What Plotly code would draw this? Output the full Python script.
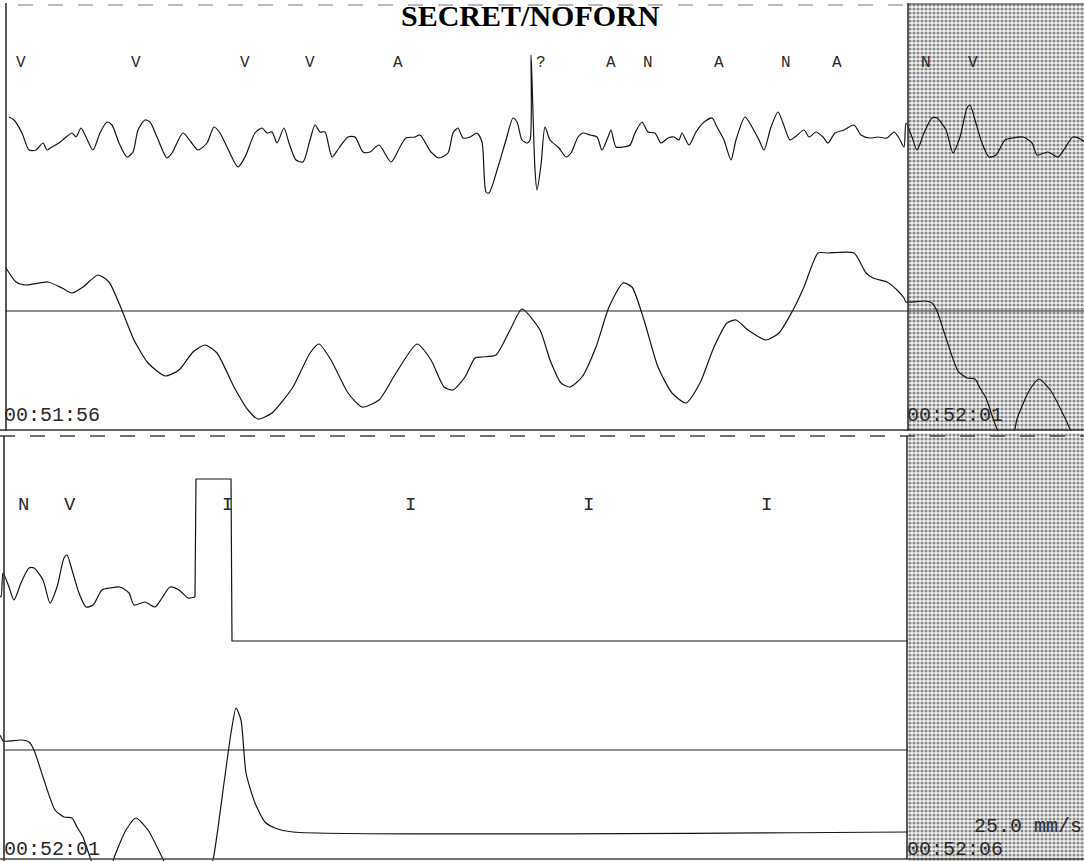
import plotly.graph_objects as go

W, H = 1084, 861
FS = 180.6  # samples per second (25 mm/s chart speed)

# ---------------- data: continuous record from 00:51:56, sample index n ----------------
# ECG channel (counts, positive = up)
ecg_n = [4, 9, 17, 24, 31, 38, 42, 47, 54, 60, 67, 71, 76, 81, 88, 95, 102, 107, 114, 122,
         128, 133, 140, 145, 152, 162, 167, 178, 186, 193, 202, 209, 215, 222, 233, 240, 250,
         257, 262, 267, 272, 279, 284, 291, 298, 305, 310, 315, 320, 327, 334, 343, 350, 358,
         365, 374, 386, 395, 401, 410, 415, 426, 434, 443, 448, 453, 458, 465, 472, 477, 481,
         484, 493, 501, 508, 512, 517, 522, 525, 526, 527, 530, 532, 536, 540, 545, 554, 561,
         566, 573, 578, 585, 592, 597, 603, 606, 611, 618, 625, 630, 637, 643, 650, 656, 663,
         669, 674, 677, 684, 691, 698, 707, 712, 719, 726, 731, 740, 747, 754, 759, 766, 773,
         778, 785, 790, 799, 804, 811, 818, 823, 830, 839, 849, 856, 865, 873, 882, 889, 894,
         899, 901, 907, 912, 919, 927, 932, 941, 948, 955, 962, 965, 970, 977, 984, 991, 1000,
         1008, 1018, 1027, 1032, 1043, 1053, 1060, 1068, 1077, 1086, 1093, 1094, 1129, 1130, 1806]
ecg_a = [23, 20, 7, -10, -10, -3, -10, -7, -3, 2, 7, 3, 12, 3, -10, 7, 18, 15, -3, -17,
         -12, 10, 20, 18, 3, -18, -13, 7, -2, -10, -3, 13, 7, -7, -27, -17, 7,
         12, 7, 8, -3, 12, -3, -20, -22, 0, 15, 8, 8, -17, -8, 3, 3, -12,
         -12, -5, -22, -7, 2, 3, 5, -12, -18, -13, 7, 12, 2, 3, 7, -2, -52,
         -53, -27, 0, 22, 18, 0, -3, 0, 85, 60, -30, -50, -25, 13, 0, -8, -17,
         -13, 3, 7, 5, 3, -10, 3, 10, -7, -7, -5, 7, 18, 8, 7, -3, 2,
         3, 0, 7, -5, 8, 17, 22, 13, 0, -20, 0, 23, 13, 0, -10, 13, 28,
         17, 0, 3, 10, 3, 8, 3, -3, 7, 10, 15, 5, 2, 3, 2, 8, 2,
         -7, 17, 3, -10, 7, 22, 22, 10, -13, 3, 32, 35, 20, -3, -17, -15, 0,
         2, 3, -3, -15, -12, -17, -8, 3, 0, -8, -7, 111, 111, -51, -51]

# Lower (filtered) channel
low_n = [1, 11, 21, 43, 57, 67, 78, 93, 104, 116, 129, 143, 160, 174, 188, 200, 212, 229, 243,
         253, 267, 288, 305, 314, 326, 343, 357, 374, 391, 412, 426, 439, 448, 460, 470, 477,
         491, 505, 517, 535, 545, 556, 565, 577, 591, 604, 618, 627, 639, 653, 667, 681, 695,
         709, 722, 731, 743, 761, 774, 788, 799, 813, 823, 849, 861, 868, 882, 892, 899,
         901, 919, 927, 932, 941, 953, 962, 970, 975, 981, 989, 998, 1008, 1012, 1024, 1034,
         1046, 1060, 1070, 1091, 1105, 1111, 1122, 1129, 1134, 1139, 1144, 1153, 1163, 1173,
         1191, 1806]
low_a = [43, 29, 26, 29, 23, 18, 24, 36, 29, 3, -29, -52, -65, -59, -41, -34, -42, -76, -99,
         -108, -102, -76, -42, -33, -49, -82, -96, -89, -62, -33, -49, -76, -79, -66, -47, -46,
         -44, -19, 2, -19, -49, -72, -76, -66, -36, 4, 28, 24, -9, -56, -82, -92, -72,
         -36, -12, -9, -19, -29, -22, 1, 24, 58, 58, 58, 38, 33, 29, 21, 13,
         9, 10, 8, 0, -27, -60, -67, -68, -77, -87, -110, -130, -125, -108, -80, -68,
         -80, -107, -127, -140, -127, -110, -33, 17, 42, 30, -23, -53, -72, -78,
         -82, -82]

# Beat annotations
beat_n = [16, 131, 240, 305, 393, 536, 606, 643, 714, 781, 832, 921, 968, 1125, 1308, 1486, 1664]
beat_lbl = ["V", "V", "V", "V", "A", "?", "A", "N", "A", "N", "A", "N", "V", "I", "I", "I", "I"]

# Time stamps
time_n = [0, 903, 1806]
time_lbl = ["00:51:56", "00:52:01", "00:52:06"]

rec_end_n = 1806
strip_len_n = 903
smooth_end_n = 1093   # ECG is a smooth trace up to here, then a square step
speed_lbl = "25.0 mm/s"
title_txt = "SECRET/NOFORN"

# ---------------- layout geometry ----------------
MONO = "Liberation Mono, DejaVu Sans Mono, monospace"
INK = "#151515"
strips = [
    dict(n0=0, rows=(3, 431), ecg_row=140, low_row=311, label_row=63, label_size=16,
         time_row=415, ax="x", ay="y"),
    dict(n0=903, rows=(433, 861), ecg_row=590, low_row=750, label_row=505, label_size=19,
         time_row=849, ax="x2", ay="y2"),
]

fig = go.Figure()
annotations = []
layout_axes = {}

k_split = ecg_n.index(smooth_end_n)

for i, s in enumerate(strips):
    n0 = s["n0"]
    r0, r1 = s["rows"]
    t0 = (n0 - 5) / FS
    t1 = (n0 + W - 5) / FS
    suffix = "" if i == 0 else "2"
    layout_axes["xaxis" + suffix] = dict(domain=[0, 1], range=[t0, t1], visible=False,
                                        anchor="y" + suffix, fixedrange=True)
    layout_axes["yaxis" + suffix] = dict(domain=[1 - r1 / H, 1 - r0 / H], range=[-r1, -r0],
                                        visible=False, anchor="x" + suffix, fixedrange=True)

    # grey preview region (start of next strip)
    gs = (n0 + strip_len_n) / FS
    ge = (n0 + strip_len_n + 400) / FS
    fig.add_trace(go.Scatter(
        x=[gs, ge, ge, gs, gs], y=[-r0, -r0, -r1, -r1, -r0], mode="lines", fill="toself",
        fillcolor="#ffffff", line=dict(width=0),
        fillpattern=dict(shape=".", fgcolor="#1e1e1e", bgcolor="#f4f4f4", size=4, solidity=0.5),
        xaxis=s["ax"], yaxis=s["ay"], hoverinfo="skip", showlegend=False))

    # baseline of the lower channel
    fig.add_trace(go.Scatter(
        x=[n0 / FS, rec_end_n / FS], y=[-s["low_row"], -s["low_row"]], mode="lines",
        line=dict(color="#222222", width=1.1), xaxis=s["ax"], yaxis=s["ay"],
        hoverinfo="skip", showlegend=False))

    # ECG channel: smooth part
    fig.add_trace(go.Scatter(
        x=[n / FS for n in ecg_n[:k_split + 1]],
        y=[a - s["ecg_row"] for a in ecg_a[:k_split + 1]], mode="lines",
        line=dict(color=INK, width=1.2, shape="spline", smoothing=0.7),
        xaxis=s["ax"], yaxis=s["ay"], hoverinfo="skip", showlegend=False))
    # ECG channel: square step
    fig.add_trace(go.Scatter(
        x=[n / FS for n in ecg_n[k_split:]],
        y=[a - s["ecg_row"] for a in ecg_a[k_split:]], mode="lines",
        line=dict(color=INK, width=1.2),
        xaxis=s["ax"], yaxis=s["ay"], hoverinfo="skip", showlegend=False))

    # lower channel
    fig.add_trace(go.Scatter(
        x=[n / FS for n in low_n], y=[a - s["low_row"] for a in low_a], mode="lines",
        line=dict(color=INK, width=1.2, shape="spline", smoothing=0.6),
        xaxis=s["ax"], yaxis=s["ay"], hoverinfo="skip", showlegend=False))

    lo, hi = n0 - 5, n0 + W - 5
    for n, lbl in zip(beat_n, beat_lbl):
        if lo <= n <= hi:
            annotations.append(dict(x=n / FS, y=-s["label_row"], xref=s["ax"], yref=s["ay"],
                                    text=lbl, showarrow=False, xanchor="center", yanchor="middle",
                                    font=dict(family=MONO, size=s["label_size"], color="#2a2a2a")))
    for n, lbl in zip(time_n, time_lbl):
        if lo <= n <= hi:
            annotations.append(dict(x=n / FS, y=-s["time_row"], xref=s["ax"], yref=s["ay"],
                                    text=lbl, showarrow=False, xanchor="left", yanchor="middle",
                                    xshift=-3,
                                    font=dict(family=MONO, size=20, color="#2a2a2a")))

annotations.append(dict(x=972 / W, y=1 - 826 / H, xref="paper", yref="paper", text=speed_lbl,
                        showarrow=False, xanchor="left", yanchor="middle",
                        font=dict(family=MONO, size=20, color="#2a2a2a")))
annotations.append(dict(x=530 / W, y=1 - 16 / H, xref="paper", yref="paper",
                        text="<b>" + title_txt + "</b>", showarrow=False,
                        xanchor="center", yanchor="middle",
                        font=dict(family="Liberation Serif, Times New Roman, serif", size=30,
                                  color="#000000")))


def hline(row, x0, x1, color="#333333", width=1.5, dash="solid"):
    return dict(type="line", xref="paper", yref="paper", x0=x0 / W, x1=x1 / W,
                y0=1 - row / H, y1=1 - row / H, line=dict(color=color, width=width, dash=dash))


def vline(col, r0, r1, color="#222222", width=1.5):
    return dict(type="line", xref="paper", yref="paper", x0=col / W, x1=col / W,
                y0=1 - r0 / H, y1=1 - r1 / H, line=dict(color=color, width=width))


shapes = [
    vline(6, 3, 431),
    hline(5, 18, 906, color="#777777", width=1.2, dash="longdash"),
    hline(430, 0, W, color="#333333", width=1.5),
    hline(436, 0, W, color="#444444", width=1.5, dash="longdash"),
    vline(4, 436, 861),
    hline(859, 0, W, color="#444444", width=1.5),
    vline(908, 3, 431),
    vline(907, 436, 859),
    hline(4, 908, W, color="#444444", width=1.2),
]

fig.update_layout(
    width=W, height=H, margin=dict(l=0, r=0, t=0, b=0),
    paper_bgcolor="white", plot_bgcolor="rgba(0,0,0,0)",
    showlegend=False, annotations=annotations, shapes=shapes,
    **layout_axes,
)

fig.write_html("out.html", config={"displayModeBar": False, "staticPlot": True})

# remove the browser's default page margin so the figure sits at the window origin
with open("out.html", encoding="utf-8") as f:
    page = f.read()
page = page.replace("<head>", "<head><style>html,body{margin:0;padding:0;overflow:hidden;}</style>", 1)
with open("out.html", "w", encoding="utf-8") as f:
    f.write(page)
